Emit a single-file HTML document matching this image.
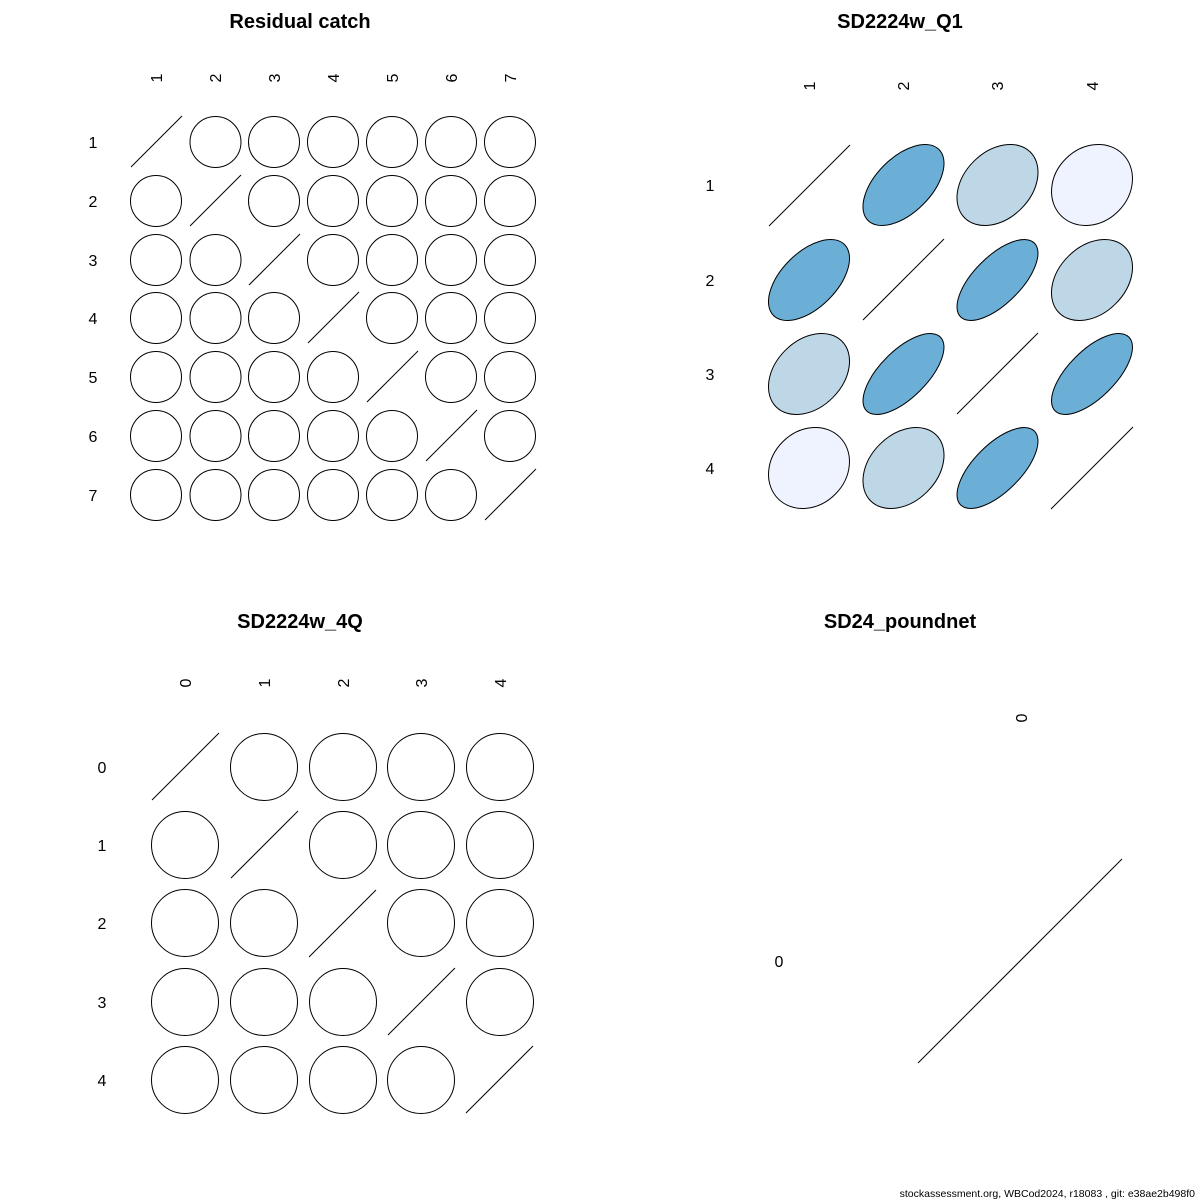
<!DOCTYPE html>
<html><head><meta charset="utf-8"><style>
html,body{margin:0;padding:0;background:#fff}
svg{display:block}
text{font-family:"Liberation Sans",sans-serif;fill:#000}
.t{font-size:20px;font-weight:bold}
.l{font-size:16px}
.f{font-size:10.5px}
circle{fill:none;stroke:#000;stroke-width:1}
line{stroke:#000;stroke-width:1}
ellipse{stroke:#000;stroke-width:1}
</style></head><body>
<svg width="1200" height="1200" viewBox="0 0 1200 1200" xmlns="http://www.w3.org/2000/svg">
<rect width="1200" height="1200" fill="#fff"/>
<text class="t" x="300" y="28" text-anchor="middle">Residual catch</text>
<text class="t" x="900" y="28" text-anchor="middle">SD2224w_Q1</text>
<text class="t" x="300" y="628" text-anchor="middle">SD2224w_4Q</text>
<text class="t" x="900" y="628" text-anchor="middle">SD24_poundnet</text>

<g class="l">
<text transform="translate(162,78) rotate(-90)" text-anchor="middle" class="l">1</text>
<text transform="translate(221,78) rotate(-90)" text-anchor="middle" class="l">2</text>
<text transform="translate(280,78) rotate(-90)" text-anchor="middle" class="l">3</text>
<text transform="translate(339,78) rotate(-90)" text-anchor="middle" class="l">4</text>
<text transform="translate(398,78) rotate(-90)" text-anchor="middle" class="l">5</text>
<text transform="translate(457,78) rotate(-90)" text-anchor="middle" class="l">6</text>
<text transform="translate(516,78) rotate(-90)" text-anchor="middle" class="l">7</text>
<text x="93" y="148" text-anchor="middle" class="l">1</text>
<text x="93" y="207" text-anchor="middle" class="l">2</text>
<text x="93" y="266" text-anchor="middle" class="l">3</text>
<text x="93" y="324" text-anchor="middle" class="l">4</text>
<text x="93" y="383" text-anchor="middle" class="l">5</text>
<text x="93" y="442" text-anchor="middle" class="l">6</text>
<text x="93" y="501" text-anchor="middle" class="l">7</text>
</g>
<g>
<line x1="131" y1="167" x2="182" y2="116"/>
<circle cx="215.5" cy="142" r="25.5"/><circle cx="274" cy="142" r="25.5"/><circle cx="333" cy="142" r="25.5"/><circle cx="392" cy="142" r="25.5"/><circle cx="451" cy="142" r="25.5"/><circle cx="510" cy="142" r="25.5"/>
<circle cx="156" cy="201" r="25.5"/><line x1="190" y1="226" x2="241" y2="175"/><circle cx="274" cy="201" r="25.5"/><circle cx="333" cy="201" r="25.5"/><circle cx="392" cy="201" r="25.5"/><circle cx="451" cy="201" r="25.5"/><circle cx="510" cy="201" r="25.5"/>
<circle cx="156" cy="260" r="25.5"/><circle cx="215.5" cy="260" r="25.5"/><line x1="249" y1="285" x2="300" y2="234"/><circle cx="333" cy="260" r="25.5"/><circle cx="392" cy="260" r="25.5"/><circle cx="451" cy="260" r="25.5"/><circle cx="510" cy="260" r="25.5"/>
<circle cx="156" cy="318" r="25.5"/><circle cx="215.5" cy="318" r="25.5"/><circle cx="274" cy="318" r="25.5"/><line x1="308" y1="343" x2="359" y2="292"/><circle cx="392" cy="318" r="25.5"/><circle cx="451" cy="318" r="25.5"/><circle cx="510" cy="318" r="25.5"/>
<circle cx="156" cy="377" r="25.5"/><circle cx="215.5" cy="377" r="25.5"/><circle cx="274" cy="377" r="25.5"/><circle cx="333" cy="377" r="25.5"/><line x1="367" y1="402" x2="418" y2="351"/><circle cx="451" cy="377" r="25.5"/><circle cx="510" cy="377" r="25.5"/>
<circle cx="156" cy="436" r="25.5"/><circle cx="215.5" cy="436" r="25.5"/><circle cx="274" cy="436" r="25.5"/><circle cx="333" cy="436" r="25.5"/><circle cx="392" cy="436" r="25.5"/><line x1="426" y1="461" x2="477" y2="410"/><circle cx="510" cy="436" r="25.5"/>
<circle cx="156" cy="495" r="25.5"/><circle cx="215.5" cy="495" r="25.5"/><circle cx="274" cy="495" r="25.5"/><circle cx="333" cy="495" r="25.5"/><circle cx="392" cy="495" r="25.5"/><circle cx="451" cy="495" r="25.5"/><line x1="485" y1="520" x2="536" y2="469"/>
</g>

<text transform="translate(815,86) rotate(-90)" text-anchor="middle" class="l">1</text>
<text transform="translate(909,86) rotate(-90)" text-anchor="middle" class="l">2</text>
<text transform="translate(1003,86) rotate(-90)" text-anchor="middle" class="l">3</text>
<text transform="translate(1098,86) rotate(-90)" text-anchor="middle" class="l">4</text>
<text x="710" y="191" text-anchor="middle" class="l">1</text>
<text x="710" y="286" text-anchor="middle" class="l">2</text>
<text x="710" y="380" text-anchor="middle" class="l">3</text>
<text x="710" y="474" text-anchor="middle" class="l">4</text>
<g>
<line x1="769" y1="226" x2="850" y2="145"/>
<ellipse cx="903.5" cy="185" rx="50.2" ry="27.6" transform="rotate(-45 903.5 185)" fill="#6BAED6"/>
<ellipse cx="997.5" cy="185" rx="46.5" ry="33.5" transform="rotate(-45 997.5 185)" fill="#BDD7E7"/>
<ellipse cx="1092" cy="185" rx="43.6" ry="37.1" transform="rotate(-45 1092 185)" fill="#EFF3FF"/>
<ellipse cx="809" cy="280" rx="50.2" ry="27.6" transform="rotate(-45 809 280)" fill="#6BAED6"/>
<line x1="863" y1="320" x2="944" y2="239"/>
<ellipse cx="997.5" cy="280" rx="52.2" ry="23.5" transform="rotate(-45 997.5 280)" fill="#6BAED6"/>
<ellipse cx="1092" cy="280" rx="46.5" ry="33.5" transform="rotate(-45 1092 280)" fill="#BDD7E7"/>
<ellipse cx="809" cy="374" rx="46.5" ry="33.5" transform="rotate(-45 809 374)" fill="#BDD7E7"/>
<ellipse cx="903.5" cy="374" rx="52.2" ry="23.5" transform="rotate(-45 903.5 374)" fill="#6BAED6"/>
<line x1="957" y1="414" x2="1038" y2="333"/>
<ellipse cx="1092" cy="374" rx="52.2" ry="23.5" transform="rotate(-45 1092 374)" fill="#6BAED6"/>
<ellipse cx="809" cy="468" rx="43.6" ry="37.1" transform="rotate(-45 809 468)" fill="#EFF3FF"/>
<ellipse cx="903.5" cy="468" rx="46.5" ry="33.5" transform="rotate(-45 903.5 468)" fill="#BDD7E7"/>
<ellipse cx="997.5" cy="468" rx="52.2" ry="23.5" transform="rotate(-45 997.5 468)" fill="#6BAED6"/>
<line x1="1051" y1="509" x2="1133" y2="427"/>
</g>

<text transform="translate(191,683) rotate(-90)" text-anchor="middle" class="l">0</text>
<text transform="translate(270,683) rotate(-90)" text-anchor="middle" class="l">1</text>
<text transform="translate(349,683) rotate(-90)" text-anchor="middle" class="l">2</text>
<text transform="translate(427,683) rotate(-90)" text-anchor="middle" class="l">3</text>
<text transform="translate(506,683) rotate(-90)" text-anchor="middle" class="l">4</text>
<text x="102" y="773" text-anchor="middle" class="l">0</text>
<text x="102" y="851" text-anchor="middle" class="l">1</text>
<text x="102" y="929" text-anchor="middle" class="l">2</text>
<text x="102" y="1008" text-anchor="middle" class="l">3</text>
<text x="102" y="1086" text-anchor="middle" class="l">4</text>
<g>
<line x1="152" y1="800" x2="219" y2="733"/>
<circle cx="264" cy="767" r="33.5"/><circle cx="343" cy="767" r="33.5"/><circle cx="421" cy="767" r="33.5"/><circle cx="500" cy="767" r="33.5"/>
<circle cx="185" cy="845" r="33.5"/><line x1="231" y1="878" x2="298" y2="811"/><circle cx="343" cy="845" r="33.5"/><circle cx="421" cy="845" r="33.5"/><circle cx="500" cy="845" r="33.5"/>
<circle cx="185" cy="923" r="33.5"/><circle cx="264" cy="923" r="33.5"/><line x1="309" y1="957" x2="376" y2="890"/><circle cx="421" cy="923" r="33.5"/><circle cx="500" cy="923" r="33.5"/>
<circle cx="185" cy="1002" r="33.5"/><circle cx="264" cy="1002" r="33.5"/><circle cx="343" cy="1002" r="33.5"/><line x1="388" y1="1035" x2="455" y2="968"/><circle cx="500" cy="1002" r="33.5"/>
<circle cx="185" cy="1080" r="33.5"/><circle cx="264" cy="1080" r="33.5"/><circle cx="343" cy="1080" r="33.5"/><circle cx="421" cy="1080" r="33.5"/><line x1="466" y1="1113" x2="533" y2="1046"/>
</g>

<text transform="translate(1027,718) rotate(-90)" text-anchor="middle" class="l">0</text>
<text x="779" y="967" text-anchor="middle" class="l">0</text>
<line x1="918" y1="1063" x2="1122" y2="859"/>

<text class="f" x="1195" y="1197" text-anchor="end">stockassessment.org, WBCod2024, r18083 , git: e38ae2b498f0</text>
</svg>
</body></html>
